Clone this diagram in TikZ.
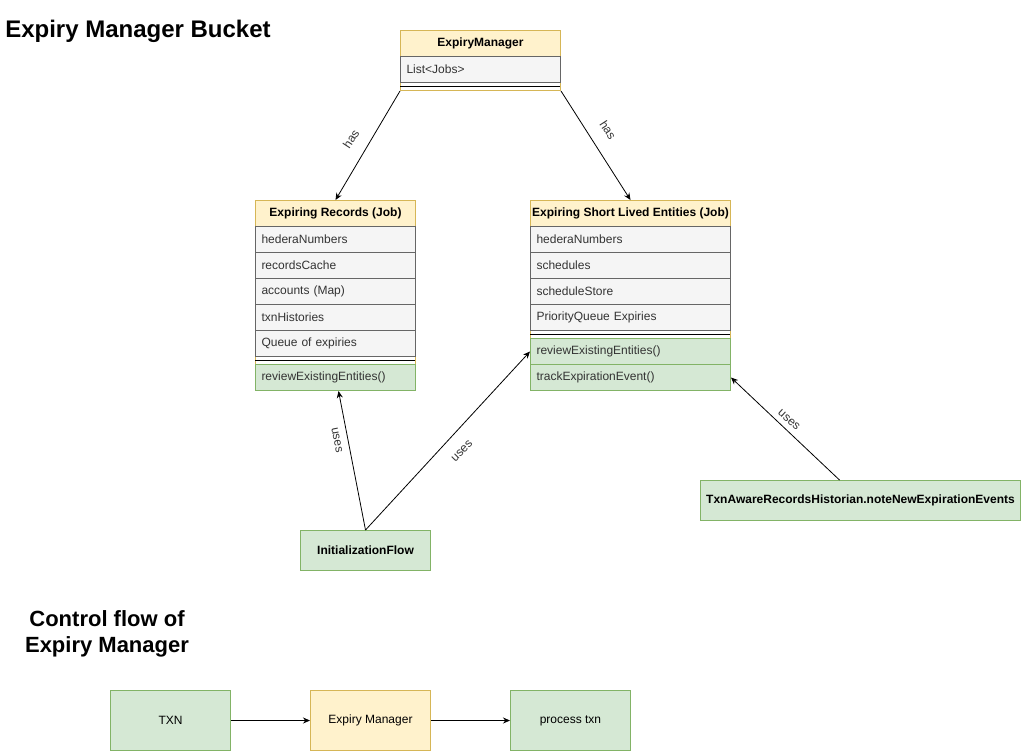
\documentclass[tikz,border=0pt]{standalone}
\usepackage{fontspec}
\setmainfont{Liberation Sans}
\usetikzlibrary{arrows.meta}
\definecolor{yfill}{HTML}{FFF2CC}
\definecolor{ybd}{HTML}{D6B656}
\definecolor{gfill}{HTML}{D5E8D4}
\definecolor{gbd}{HTML}{82B366}
\definecolor{ffill}{HTML}{F5F5F5}
\definecolor{fbd}{HTML}{666666}
\definecolor{ftxt}{HTML}{333333}
\tikzset{
  sm/.style={font=\fontsize{9}{11}\selectfont},
  outerbox/.style={draw=ybd, line width=0.75pt, inner sep=0pt, anchor=north west},
  hdr/.style={draw=ybd, fill=yfill, line width=0.75pt, font=\bfseries\fontsize{9}{11}\selectfont, minimum height=19.5pt, inner sep=0pt, anchor=north west},
  fld/.style={draw=fbd, fill=ffill, text=ftxt, line width=0.75pt, sm, minimum height=19.5pt, inner xsep=4.5pt, inner ysep=0pt, align=left, anchor=north west},
  mth/.style={fld, draw=gbd, fill=gfill},
  sepline/.style={line width=0.75pt, black},
  gbox/.style={draw=gbd, fill=gfill, line width=0.75pt, sm, inner sep=0pt, anchor=north west},
  ybox/.style={draw=ybd, fill=yfill, line width=0.75pt, sm, inner sep=0pt, anchor=north west},
  arr/.style={-{Stealth[length=5.25pt,width=4.5pt]}, line width=0.6pt},
  lbl/.style={sm, text=ftxt, inner sep=0pt},
}
\begin{document}
\begin{tikzpicture}[x=0.75pt, y=-0.75pt]
\useasboundingbox (0,0) rectangle (1021,751);

% titles
\node[anchor=west, inner sep=0pt, font=\bfseries\fontsize{18}{22}\selectfont] (t1) at (5,31) {Expiry Manager Bucket};
\node[align=center, inner sep=0pt, font=\bfseries\fontsize{16.5}{19.5}\selectfont] (t2) at (107,634) {Control flow of\\Expiry Manager};

% ExpiryManager
\node[outerbox, minimum width=120pt, minimum height=45pt] (em) at (400,30) {};
\node[hdr, minimum width=120pt] (emh) at (400,30) {ExpiryManager};
\node[fld, text width=111pt] (emf1) at (400,56) {List<Jobs>};
\draw[sepline] (400,86) -- (560,86);

% Expiring Records
\node[outerbox, minimum width=120pt, minimum height=142.5pt] (er) at (255,200) {};
\node[hdr, minimum width=120pt] (erh) at (255,200) {Expiring Records (Job)};
\node[fld, text width=111pt] (erf1) at (255,226) {hederaNumbers};
\node[fld, text width=111pt] (erf2) at (255,252) {recordsCache};
\node[fld, text width=111pt] (erf3) at (255,278) {accounts (Map)};
\node[fld, text width=111pt] (erf4) at (255,304) {txnHistories};
\node[fld, text width=111pt] (erf5) at (255,330) {Queue of expiries};
\draw[sepline] (255,360) -- (415,360);
\node[mth, text width=111pt] (erm) at (255,364) {reviewExistingEntities()};

% Expiring Short Lived Entities
\node[outerbox, minimum width=150pt, minimum height=142.5pt] (es) at (530,200) {};
\node[hdr, minimum width=150pt] (esh) at (530,200) {Expiring Short Lived Entities (Job)};
\node[fld, text width=141pt] (esf1) at (530,226) {hederaNumbers};
\node[fld, text width=141pt] (esf2) at (530,252) {schedules};
\node[fld, text width=141pt] (esf3) at (530,278) {scheduleStore};
\node[fld, text width=141pt] (esf4) at (530,304) {PriorityQueue Expiries};
\draw[sepline] (530,334) -- (730,334);
\node[mth, text width=141pt] (esm1) at (530,338) {reviewExistingEntities()};
\node[mth, text width=141pt] (esm2) at (530,364) {trackExpirationEvent()};

% other nodes
\node[gbox, minimum width=97.5pt, minimum height=30pt, font=\bfseries\fontsize{9}{11}\selectfont] (init) at (300,530) {InitializationFlow};
\node[gbox, minimum width=240pt, minimum height=30pt, font=\bfseries\fontsize{9}{11}\selectfont] (txa) at (700,480) {TxnAwareRecordsHistorian.noteNewExpirationEvents};

% bottom flow
\node[gbox, minimum width=90pt, minimum height=45pt] (txn) at (110,690) {TXN};
\node[ybox, minimum width=90pt, minimum height=45pt] (emb) at (310,690) {Expiry Manager};
\node[gbox, minimum width=90pt, minimum height=45pt] (proc) at (510,690) {process txn};

% connectors
\draw[arr] (em.south west) -- (er.north);
\draw[arr] (em.south east) -- (es.north);
\draw[arr] (init.north) -- ([xshift=2.25pt]erm.south);
\draw[arr] (init.north) -- (esm1.west);
\draw[arr] ([xshift=-15.75pt]txa.north) -- (esm2.east);
\draw[arr] (txn.east) -- (emb.west);
\draw[arr] (emb.east) -- (proc.west);

% connector labels
\node[lbl, rotate=57] (l1) at (351,139) {has};
\node[lbl, rotate=-57] (l2) at (608,130) {has};
\node[lbl, rotate=-79] (l3) at (337,440) {uses};
\node[lbl, rotate=45] (l4) at (462,451) {uses};
\node[lbl, rotate=-42] (l5) at (789,420) {uses};
\end{tikzpicture}
\end{document}
